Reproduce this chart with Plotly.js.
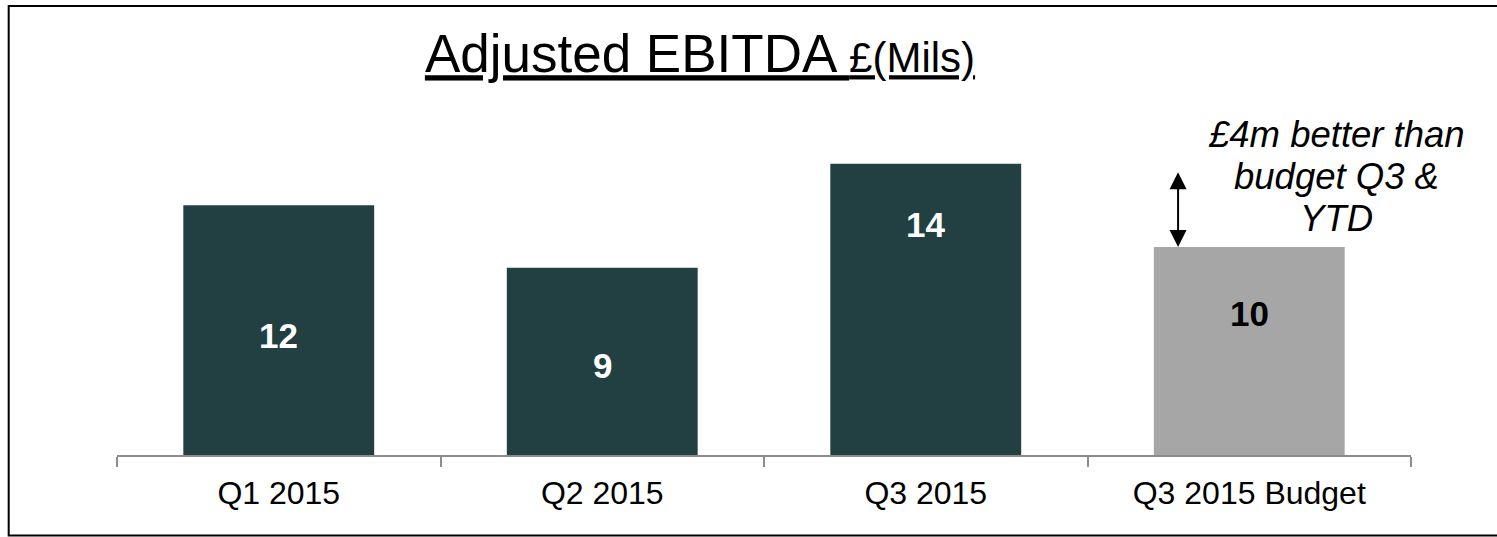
<!DOCTYPE html>
<html>
<head>
<meta charset="utf-8">
<script src="https://cdn.plot.ly/plotly-3.0.1.min.js"></script>
<style>
  html, body { margin: 0; padding: 0; background: #ffffff; }
  #chart { width: 1497px; height: 537px; }
</style>
</head>
<body>
<div id="chart"></div>
<script>
// ---- data ----
const categories = ['Q1 2015', 'Q2 2015', 'Q3 2015', 'Q3 2015 Budget'];
const ebitdaValues = [12, 9, 14, 10];
const seriesKind = ['Actual', 'Actual', 'Actual', 'Budget'];
const titleMain = 'Adjusted EBITDA';
const titleUnit = '£(Mils)';
const noteLines = ['£4m better than', 'budget Q3 &', 'YTD'];

// ---- styling ----
const FONT = '"Liberation Sans", Arial, Helvetica, sans-serif';
const kindColor = { Actual: '#223f41', Budget: '#a6a6a6' };
const kindLabelColor = { Actual: '#ffffff', Budget: '#000000' };
const labelFrac = [0.48, 0.48, 0.79, 0.68]; // vertical placement of labels inside bars
const noteX = 3.27, noteTopY = 15.38, noteLineStep = 2.0;

const barTrace = {
  type: 'bar',
  x: categories,
  y: ebitdaValues,
  width: 0.59,
  marker: { color: seriesKind.map(k => kindColor[k]), line: { width: 0 } },
  hoverinfo: 'x+y',
  showlegend: false
};

const annotations = categories.map((c, i) => ({
  x: c, y: ebitdaValues[i] * labelFrac[i], xref: 'x', yref: 'y',
  text: '<b>' + ebitdaValues[i] + '</b>', showarrow: false,
  font: { family: FONT, size: 35, color: kindLabelColor[seriesKind[i]] },
  xanchor: 'center', yanchor: 'middle'
}));

// double arrow showing gap between Q3 actual and budget
annotations.push({
  x: 2.78, y: ebitdaValues[3], xref: 'x', yref: 'y',
  ax: 2.78, ay: ebitdaValues[2], axref: 'x', ayref: 'y',
  showarrow: true, arrowside: 'end+start', arrowhead: 2, arrowsize: 1.7,
  arrowwidth: 2, arrowcolor: '#000000', standoff: 0, startstandoff: 7, text: ''
});
noteLines.forEach((line, k) => {
  annotations.push({
    x: noteX, y: noteTopY - k * noteLineStep, xref: 'x', yref: 'y',
    text: '<i>' + line + '</i>', showarrow: false, align: 'center',
    font: { family: FONT, size: 36.5, color: '#000000' },
    xanchor: 'center', yanchor: 'middle'
  });
});

const layout = {
  width: 1497, height: 537,
  margin: { l: 117, r: 86, t: 122, b: 82, pad: 0 },
  paper_bgcolor: '#ffffff', plot_bgcolor: '#ffffff',
  font: { family: FONT, color: '#000000' },
  title: {
    text: '<u>' + titleMain + ' <span style="font-size:42px">' + titleUnit + '</span></u>',
    font: { family: FONT, size: 53, color: '#000000' },
    x: 0.4676, xref: 'container', xanchor: 'center',
    y: 0.90, yref: 'container', yanchor: 'middle'
  },
  xaxis: {
    type: 'category', range: [-0.5, 3.5],
    showline: true, linecolor: '#8c8c8c', linewidth: 2,
    ticks: 'outside', tickson: 'boundaries', ticklen: 10, tickwidth: 2, tickcolor: '#8c8c8c',
    ticklabelstandoff: 9,
    tickfont: { family: FONT, size: 32, color: '#000000' },
    showgrid: false, zeroline: false, fixedrange: true
  },
  yaxis: {
    range: [0, 16], visible: false, showgrid: false, zeroline: false, fixedrange: true
  },
  annotations: annotations,
  shapes: [{
    type: 'rect', xref: 'paper', yref: 'paper',
    x0: -0.0837, x1: 1.09, y0: -0.2417, y1: 1.348,
    line: { color: '#000000', width: 2 }, fillcolor: 'rgba(0,0,0,0)', layer: 'above'
  }],
  showlegend: false
};

Plotly.newPlot('chart', [barTrace], layout, { displayModeBar: false, staticPlot: true });
</script>
</body>
</html>
